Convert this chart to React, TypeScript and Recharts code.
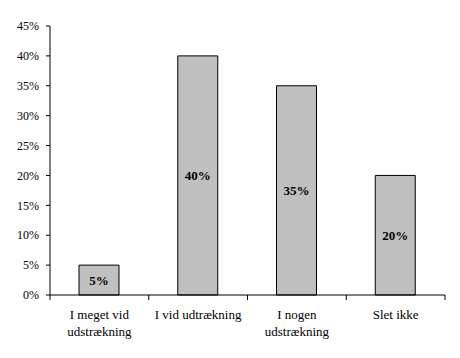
import React from 'react';
import { BarChart, Bar, XAxis, YAxis, LabelList } from 'recharts';

const categories = ['I meget vid udstrækning', 'I vid udtrækning', 'I nogen udstrækning', 'Slet ikke'];
const tickLines = [['I meget vid', 'udstrækning'], ['I vid udtrækning'], ['I nogen', 'udstrækning'], ['Slet ikke']];
const values = [5, 40, 35, 20];
const yTicks = [0, 5, 10, 15, 20, 25, 30, 35, 40, 45];

const data = categories.map((name, i) => ({ name, value: values[i], lines: tickLines[i] }));

const W = 452;
const H = 350;
const margin = { top: 18, right: 15, bottom: 13, left: 6 };
const yAxisWidth = 36;
const band = (W - margin.left - margin.right - yAxisWidth) / categories.length;
const font = '"Liberation Serif", "Times New Roman", serif';

// labels in two lines plus the boundary tick marks Excel-style
function XTick(props: any) {
  const { x, y, index } = props;
  const lines: string[] = tickLines[index] || [];
  return (
    <g>
      <line x1={x - band / 2} x2={x - band / 2} y1={y} y2={y + 5} stroke="#000" />
      {index === categories.length - 1 && (
        <line x1={x + band / 2} x2={x + band / 2} y1={y} y2={y + 5} stroke="#000" />
      )}
      <text x={x} y={y + 24} textAnchor="middle" fontSize={13} fontFamily={font} fill="#000">
        {lines.map((l, i) => (
          <tspan key={i} x={x} dy={i === 0 ? 0 : 17}>
            {l}
          </tspan>
        ))}
      </text>
    </g>
  );
}

export default function App() {
  return (
    <BarChart width={W} height={H} data={data} margin={margin}>
      <XAxis
        dataKey="name"
        interval={0}
        tickSize={0}
        tickMargin={0}
        tickLine={false}
        axisLine={{ stroke: '#000' }}
        tick={<XTick />}
        height={50}
      />
      <YAxis
        domain={[0, 45]}
        ticks={yTicks}
        interval={0}
        width={yAxisWidth}
        tickSize={4}
        tickMargin={7}
        axisLine={{ stroke: '#000' }}
        tickLine={{ stroke: '#000' }}
        tickFormatter={(v: number) => `${v}%`}
        tick={{ fontSize: 12, fontFamily: font, fill: '#000' }}
      />
      <Bar dataKey="value" fill="#C0C0C0" stroke="#000" strokeWidth={1} barSize={40} isAnimationActive={false}>
        <LabelList
          dataKey="value"
          position="center"
          formatter={(v: any) => `${v}%`}
          style={{ fontSize: 13, fontWeight: 'bold', fontFamily: font, fill: '#000' }}
        />
      </Bar>
    </BarChart>
  );
}
